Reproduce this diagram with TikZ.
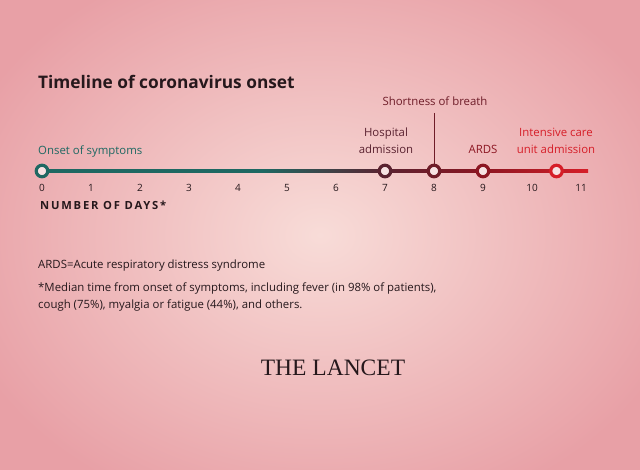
\documentclass[tikz,border=0pt]{standalone}
\usepackage{fontspec}
\setmainfont{Open Sans}
\newfontfamily\lancetfont{Liberation Serif}
\newfontfamily\daysfont[LetterSpace=16]{Open Sans Bold}
\definecolor{bgout}{RGB}{232,160,166}
\definecolor{bgin}{RGB}{248,220,216}
\definecolor{tealc}{RGB}{30,104,98}
\definecolor{maroonc}{RGB}{90,34,48}
\definecolor{darkredc}{RGB}{110,28,40}
\definecolor{ardsc}{RGB}{140,22,34}
\definecolor{redc}{RGB}{214,30,40}
\definecolor{txt}{RGB}{38,24,28}
\definecolor{holefill}{RGB}{246,226,226}
\begin{document}
\begin{tikzpicture}[x=1pt,y=-1pt,
  lbl/.style={inner sep=0pt,font=\fontsize{11.4}{17}\selectfont},
  tick/.style={inner sep=0pt,anchor=base,font=\fontsize{10}{11}\selectfont,text=txt},
  dot/.style={circle,draw,line width=3.2pt,fill=holefill,minimum size=11.5pt,inner sep=0pt},
  note/.style={inner sep=0pt,anchor=base west,font=\fontsize{11.4}{17}\selectfont,text=txt}]
\useasboundingbox (0,0) rectangle (640,470);
\shade[inner color=bgin,outer color=bgout] (-60,-60) rectangle (700,530);
% title
\node[inner sep=0pt,anchor=base west,font=\fontsize{17.3}{20}\bfseries\selectfont,text=txt] (title) at (38,89) {Timeline of coronavirus onset};
% line segments
\shade[left color=tealc,right color=tealc] (42,169.3) rectangle (262,172.7);
\shade[left color=tealc,right color=maroonc] (262,169.3) rectangle (385,172.7);
\shade[left color=maroonc,right color=ardsc] (385,169.3) rectangle (483,172.7);
\shade[left color=ardsc,right color=redc] (483,169.3) rectangle (588,172.7);
% ticks
\foreach \i in {0,...,11} {
  \node[tick] (t\i) at ({42+49*\i},192) {\i};
}
\node[inner sep=0pt,anchor=base west,font=\daysfont\fontsize{11.2}{12}\selectfont,text=txt] (days) at (40,210) {NUMBER OF DAYS*};
% dots
\node[dot,draw=tealc] (d0) at (42,171) {};
\node[dot,draw=maroonc] (d7) at (385,171) {};
\node[dot,draw=darkredc] (d8) at (434,171) {};
\node[dot,draw=ardsc] (d9) at (483,171) {};
\node[dot,draw=redc] (d10) at (556.5,171) {};
% labels
\node[lbl,anchor=base west,text=tealc] (onset) at (38,155) {Onset of symptoms};
\node[lbl,anchor=base,text=maroonc] (hosp1) at (386,137) {Hospital};
\node[lbl,anchor=base,text=maroonc] (hosp2) at (386,154) {admission};
\node[lbl,anchor=base,text=darkredc] (breath) at (435,106) {Shortness of breath};
\coordinate (bl) at (434,113);
\draw[darkredc,line width=0.8pt] (bl) -- (d8.north);
\node[lbl,anchor=base,text=ardsc] (ards) at (483,154) {ARDS};
\node[lbl,anchor=base,text=redc] (icu1) at (556,137) {Intensive care};
\node[lbl,anchor=base,text=redc] (icu2) at (556,154) {unit admission};
% notes
\node[note] (n1) at (38,269) {ARDS=Acute respiratory distress syndrome};
\node[note] (n2) at (38,292) {*Median time from onset of symptoms, including fever (in 98\% of patients),};
\node[note] (n3) at (38,309) {cough (75\%), myalgia or fatigue (44\%), and others.};
% logo
\node[inner sep=0pt,anchor=base,font=\lancetfont\fontsize{23.5}{26}\selectfont,text=txt] (lancet) at (333,375) {THE LANCET};
\end{tikzpicture}
\end{document}
